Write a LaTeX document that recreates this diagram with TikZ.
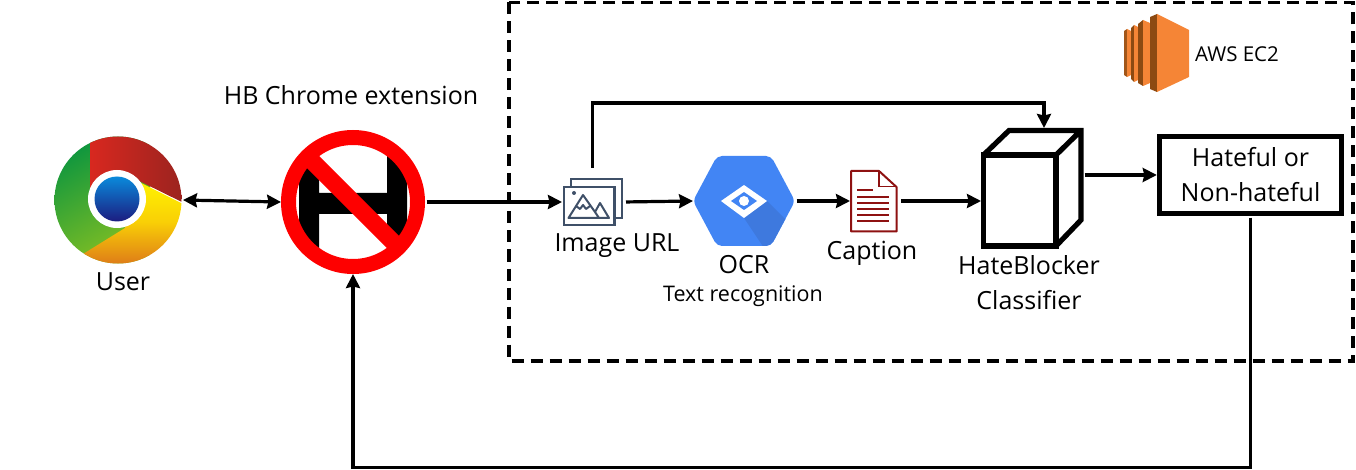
\documentclass[tikz,border=0pt]{standalone}
\usepackage{fontspec}
\setmainfont{Open Sans}
\usepackage{xcolor}
\usetikzlibrary{arrows.meta,positioning,calc}
\definecolor{HbRed}{HTML}{FE0000}
\definecolor{OcrBlue}{HTML}{4285F4}
\definecolor{OcrDark}{HTML}{3E79DE}
\definecolor{IconSlate}{HTML}{3F5068}
\definecolor{DocRed}{HTML}{8E1111}
\definecolor{AwsLight}{HTML}{F58536}
\definecolor{AwsDark}{HTML}{8C4A12}
\definecolor{ChromeGreenA}{HTML}{0E963E}
\definecolor{ChromeGreenB}{HTML}{86C022}
\definecolor{ChromeRedA}{HTML}{D8281F}
\definecolor{ChromeRedB}{HTML}{96231F}
\definecolor{ChromeYelA}{HTML}{FFF400}
\definecolor{ChromeYelB}{HTML}{F9CF06}
\definecolor{ChromeYelC}{HTML}{DE7C18}
\definecolor{ChromeBlueA}{HTML}{0A8ADB}
\definecolor{ChromeBlueB}{HTML}{1C1C80}
\tikzset{
  iconbox/.style={inner sep=0pt,outer sep=0pt},
  caplabel/.style={inner sep=0pt,font=\fontsize{25}{35}\selectfont,align=center},
  smalllabel/.style={inner sep=0pt,font=\fontsize{21.5}{26}\selectfont,align=center},
  awstext/.style={inner sep=0pt,font=\fontsize{20.5}{26}\selectfont},
  resultbox/.style={draw=black,line width=5.4pt,align=center,minimum width=182pt,minimum height=77pt,inner sep=0pt,font=\fontsize{25}{35}\selectfont},
  flowarrow/.style={-{Stealth[length=14pt,width=14pt,inset=1.5pt]},line width=3.2pt,draw=black,shorten <=1.5pt},
  cloudframe/.style={draw=black,line width=3.4pt,dash pattern=on 12pt off 7pt},
  cubeline/.style={draw=black,line width=5.2pt,line join=miter}
}
\begin{document}
\begin{tikzpicture}[x=1pt,y=-1pt,node distance=6pt]
\useasboundingbox (0,0) rectangle (1356,470);
\draw[cloudframe] (509,2.5) rectangle (1353,361);
% chrome logo
\node[iconbox,circle,minimum size=127pt] (user) at (118,200) {};
\begin{scope}
\clip (118,200) circle (63.5);
\shade[top color=ChromeGreenA,bottom color=ChromeGreenB,shading angle=30] (54,136) rectangle (150,263);
\shade[left color=ChromeRedA,right color=ChromeRedB] (90,130) -- (190,130) -- (190,206) -- (117,170) -- (90,190) -- cycle;
\shade[top color=ChromeYelA,bottom color=ChromeYelC,middle color=ChromeYelB] (181,203) -- (190,206) -- (190,264) -- (80,264) -- (83,254) -- (125,228) -- (135,180) -- cycle;
\end{scope}
\fill[white] (117,199) circle (29);
\shade[top color=ChromeBlueA,bottom color=ChromeBlueB] (117,199) circle (22.5);
% blocked H sign
\node[iconbox,circle,minimum size=144pt] (hb) at (353,202) {};
\begin{scope}
\clip (353,202) circle (65);
\fill[black] (299,130) rectangle (319,275) (387,130) rectangle (407,275) (299,193) rectangle (407,214);
\end{scope}
\draw[HbRed,line width=15pt] (353,202) circle (64.5);
\draw[HbRed,line width=17pt] (312,161) -- (394,243);
% image icon
\node[iconbox,minimum width=61pt,minimum height=48pt] (imgurl) at (592.5,202) {};
\draw[IconSlate,line width=1.6pt,fill=white] (571,179) rectangle (622,218);
\draw[IconSlate,line width=2.6pt,fill=white] (564,187) rectangle (614.5,225);
\draw[IconSlate,line width=2pt,line join=round] (568.5,218) -- (583,195) -- (595,212) -- (600,203) -- (609,218) -- cycle (595,212) -- (599,218) (576,206) -- (580,209) -- (583,205) -- (586,209) -- (590,206);
\fill[IconSlate] (574,193) circle (2);
% ocr hexagon
\node[iconbox,minimum width=102pt,minimum height=90pt] (ocr) at (744,201) {};
\begin{scope}
\clip[rounded corners=5pt] (693,201) -- (717,156) -- (771,156) -- (795,201) -- (771,246) -- (717,246) -- cycle;
\fill[OcrBlue] (690,150) rectangle (800,250);
\fill[OcrDark] (767,201) -- (815,249) -- (772,260) -- (744,218) -- cycle;
\end{scope}
\fill[white] (721,201) -- (744,185) -- (767,201) -- (744,218) -- cycle;
\fill[OcrBlue] (731,201) -- (744,192) -- (757,201) -- (744,210) -- cycle;
\fill[white] (744,201) circle (5);
% caption document
\node[iconbox,minimum width=47pt,minimum height=62pt] (doc) at (873.5,201) {};
\draw[DocRed,line width=2pt,fill=white,line join=round] (851,171) -- (879,171) -- (896.5,187) -- (896.5,231.5) -- (851,231.5) -- cycle;
\draw[DocRed,line width=1.6pt] (879,171) -- (879,186.5) -- (896.5,186.5);
\draw[DocRed,line width=2.2pt] (857,190) -- (873,190) (857,197) -- (889,197) (857,203) -- (889,203) (857,209) -- (889,209) (857,215) -- (889,215) (857,221) -- (889,221);
% classifier cube
\node[iconbox,minimum width=102pt,minimum height=120pt] (clf) at (1032,188) {};
\draw[cubeline] (983.5,155) rectangle (1056,246);
\draw[cubeline] (983.5,155) -- (1009,130.5) -- (1081,130.5) -- (1081,220) -- (1056,246) (1056,155) -- (1081,130.5);
% aws icon
\node[iconbox,minimum width=66pt,minimum height=78pt] (aws) at (1156,53) {};
\fill[AwsDark!80!AwsLight] (1124,31) -- (1127,29) -- (1127,77) -- (1124,75) -- cycle;
\fill[AwsLight] (1127,29) -- (1131,31) -- (1131,75) -- (1127,77) -- cycle;
\fill[AwsDark] (1131,28) -- (1134,25) -- (1134,82) -- (1131,79) -- cycle;
\fill[AwsLight] (1134,25) -- (1138,27) -- (1138,80) -- (1134,82) -- cycle;
\fill[AwsDark] (1138,24) -- (1143,20) -- (1143,86) -- (1138,83) -- cycle;
\fill[AwsLight] (1143,20) -- (1150,23) -- (1150,83) -- (1143,86) -- cycle;
\fill[AwsDark] (1150,17) -- (1157,14) -- (1157,92) -- (1150,89) -- cycle;
\fill[AwsLight] (1157,14) -- (1189,30) -- (1189,77) -- (1157,92) -- cycle;
% result
\node[resultbox] (verdict) at (1250.5,175) {Hateful or\\Non-hateful};
% labels
\node[caplabel] (userlabel) at (123,282) {User};
\node[caplabel] (hblabel) at (351,95) {HB Chrome extension};
\node[caplabel] (imglabel) at (617,246) {Image URL};
\node[caplabel] (ocrlabel) at (744,265) {OCR};
\node[smalllabel] (textlabel) at (743,296) {Text recognition};
\node[caplabel] (doclabel) at (872,253) {Caption};
\node[caplabel] (clflabel) at (1029,282.5) {HateBlocker\\Classifier};
\node[awstext] (awslabel) at (1237,54) {AWS EC2};
% connectors
\draw[flowarrow,{Stealth[length=14pt,width=14pt,inset=1.5pt]}-{Stealth[length=14pt,width=14pt,inset=1.5pt]}] (user.east) -- (hb.west);
\draw[flowarrow] (hb.east) -- (imgurl.west);
\draw[flowarrow,shorten <=3pt] (imgurl.east) -- (ocr.west);
\draw[flowarrow] (ocr.east) -- (doc.west);
\draw[flowarrow,shorten <=4pt] (doc.east) -- (doc.east -| clf.west);
\draw[flowarrow] (clf.east |- verdict.west) -- (verdict.west);
\draw[flowarrow,shorten <=10pt] (imgurl.north) -- ++(0,-75) -| ([xshift=12pt]clf.north);
\draw[flowarrow] (verdict.south) -- ++(0,251) -| (hb.south);
\end{tikzpicture}
\end{document}
